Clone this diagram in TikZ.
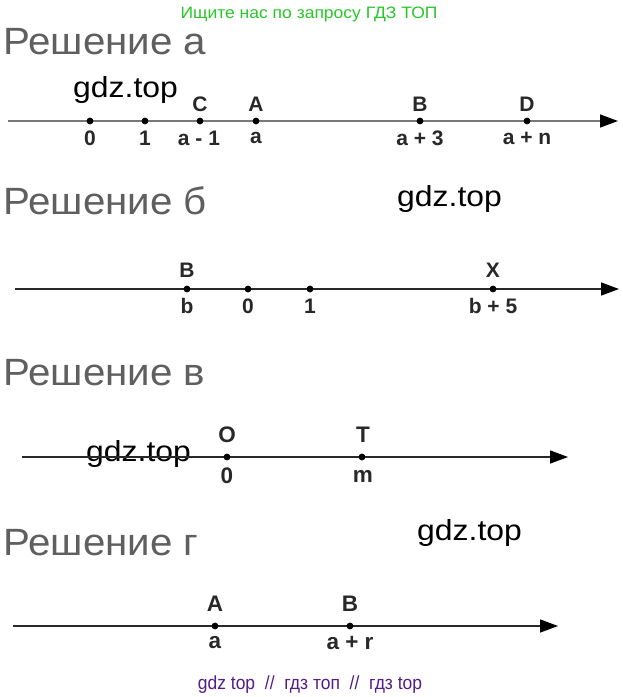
\documentclass[tikz,border=0pt]{standalone}
\usepackage{fontspec}
\setmainfont{Liberation Sans}
\usetikzlibrary{arrows.meta}
\definecolor{wmgreen}{RGB}{40,200,40}
\definecolor{wmpurple}{RGB}{85,30,135}
\definecolor{headgray}{RGB}{95,95,95}
\definecolor{axisA}{RGB}{120,120,120}
\definecolor{axisB}{RGB}{40,40,40}
\tikzset{
  txt/.style={inner sep=0pt},
  heading/.style={txt, anchor=base west, text=headgray, xscale=1.06, font=\fontsize{38}{38}\selectfont},
  wm/.style={txt, anchor=base west, text=black, xscale=1.1, font=\fontsize{29}{29}\selectfont},
  lbl/.style={txt, text=axisB, xscale=1.0, font=\fontsize{21}{21}\selectfont\bfseries},
  biglbl/.style={lbl, font=\fontsize{22.5}{22.5}\selectfont\bfseries},
  numaxis/.style={line width=1.4pt, -{Triangle[length=18pt,width=13pt,color=black]}},
  dotmark/.style={fill=black}
}
\begin{document}
\begin{tikzpicture}[x=1pt,y=-1pt]
\useasboundingbox[fill=white] (0,0) rectangle (622,697);

\node[txt, text=wmgreen, xscale=1.06, font=\fontsize{16.5}{16.5}\selectfont, anchor=base] (top) at (309,18) {Ищите нас по запросу ГДЗ ТОП};

% ---- a
\node[heading] (ha) at (3,54) {Решение а};
\node[wm] (wa) at (73,97) {gdz.top};
\coordinate (as) at (8,121);
\coordinate (ae) at (618,121);
\draw[numaxis, color=axisA] (as) -- (ae);
\foreach \n/\x in {a0/90, a1/145, ac/200, aa/256, ab/420, ad/527}{
  \coordinate (\n) at (\x,121);
  \fill[dotmark] (\n) circle (3.4);
}
\node[lbl] (lc) at (200,104) {C};
\node[lbl] (la) at (256,104) {A};
\node[lbl] (lb) at (420,104) {B};
\node[lbl] (ld) at (527,104) {D};
\node[lbl] (n0) at (90,138) {0};
\node[lbl] (n1) at (145,138) {1};
\node[lbl] (nc) at (199,138) {a - 1};
\node[lbl] (na) at (256,138) {a};
\node[lbl] (nb) at (420,138) {a + 3};
\node[lbl] (nd) at (527,138) {a + n};

% ---- b
\node[heading] (hb) at (3,214) {Решение б};
\node[wm] (wb) at (397,206) {gdz.top};
\coordinate (bs) at (15,289);
\coordinate (be) at (619,289);
\draw[numaxis, color=axisB] (bs) -- (be);
\foreach \n/\x in {bb/187, b0/248, b1/310, bx/493}{
  \coordinate (\n) at (\x,289);
  \fill[dotmark] (\n) circle (3.4);
}
\node[lbl] (lbb) at (187,270) {B};
\node[lbl] (lbx) at (493,270) {X};
\node[lbl] (mb) at (187,306) {b};
\node[lbl] (m0) at (248,306) {0};
\node[lbl] (m1) at (310,306) {1};
\node[lbl] (mx) at (493,306) {b + 5};

% ---- v
\node[heading] (hv) at (3,385) {Решение в};
\node[wm] (wv) at (86,461) {gdz.top};
\coordinate (vs) at (22,457);
\coordinate (ve) at (568,457);
\draw[numaxis, color=axisB] (vs) -- (ve);
\foreach \n/\x in {vo/227, vt/362}{
  \coordinate (\n) at (\x,457);
  \fill[dotmark] (\n) circle (3.4);
}
\node[biglbl] (lvo) at (227,435) {O};
\node[biglbl] (lvt) at (363,435) {T};
\node[biglbl] (mvo) at (227,476) {0};
\node[biglbl] (mvt) at (363,476) {m};

% ---- g
\node[heading] (hg) at (3,555) {Решение г};
\node[wm] (wg) at (417,540) {gdz.top};
\coordinate (gs) at (13,626);
\coordinate (ge) at (558,626);
\draw[numaxis, color=axisB] (gs) -- (ge);
\foreach \n/\x in {ga/215, gb/350}{
  \coordinate (\n) at (\x,626);
  \fill[dotmark] (\n) circle (3.4);
}
\node[biglbl] (lga) at (215,604) {A};
\node[biglbl] (lgb) at (350,604) {B};
\node[biglbl] (mga) at (215,643) {a};
\node[biglbl] (mgb) at (350,643) {a + r};

\node[txt, text=wmpurple, xscale=0.92, font=\fontsize{19}{19}\selectfont, anchor=base] (bot) at (310,689) {gdz top \ // \ гдз топ \ // \ гдз top};
\end{tikzpicture}
\end{document}
